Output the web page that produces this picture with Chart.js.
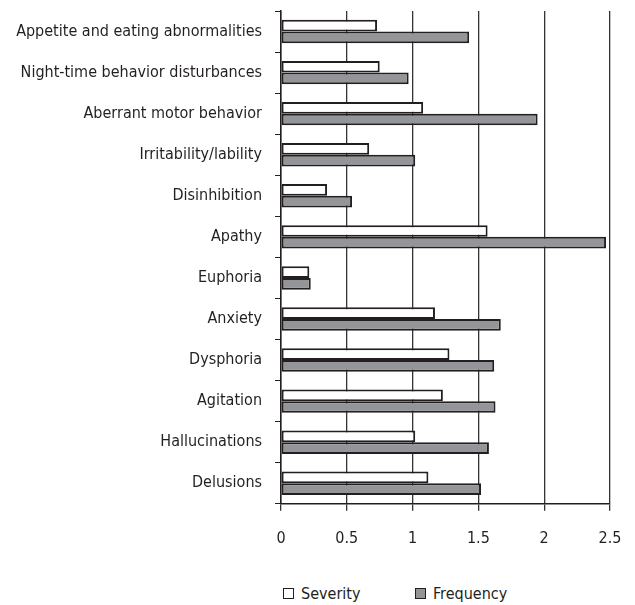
<!DOCTYPE html>
<html>
<head>
<meta charset="utf-8">
<script src="https://cdn.jsdelivr.net/npm/chart.js@4/dist/chart.umd.min.js"></script>
<style>
  html, body { margin: 0; padding: 0; background: #fff; }
  #wrap { position: relative; width: 635px; height: 605px; }
  #legend { position: absolute; left: 283px; top: 584px; margin: 0; padding: 0; list-style: none;
            font-family: 'DejaVu Sans Condensed', sans-serif; font-size: 16px; color: #231f20; }
  #legend li { position: absolute; top: 0; white-space: nowrap; display: flex; align-items: center; }
  #legend .box { display: inline-block; width: 9px; height: 9px; border: 1px solid #231f20; margin-right: 7px; }
</style>
</head>
<body>
<div id="wrap">
  <canvas id="myChart" width="635" height="566"></canvas>
  <ul id="legend"></ul>
</div>
<script>
const categories = [
    'Appetite and eating abnormalities',
    'Night-time behavior disturbances',
    'Aberrant motor behavior',
    'Irritability/lability',
    'Disinhibition',
    'Apathy',
    'Euphoria',
    'Anxiety',
    'Dysphoria',
    'Agitation',
    'Hallucinations',
    'Delusions'
];
const severity = [0.73, 0.75, 1.08, 0.67, 0.35, 1.57, 0.215, 1.17, 1.28, 1.23, 1.02, 1.12];
const frequency = [1.43, 0.97, 1.95, 1.02, 0.54, 2.47, 0.226, 1.67, 1.62, 1.63, 1.58, 1.52];
const xTicks = [0, 0.5, 1, 1.5, 2, 2.5];

const fontFamily = "'DejaVu Sans Condensed', sans-serif";
const ink = '#231f20';

Chart.defaults.font.family = fontFamily;
Chart.defaults.font.size = 16;
Chart.defaults.color = ink;

const ctx = document.getElementById('myChart');

const chart = new Chart(ctx, {
    type: 'bar',
    data: {
        labels: categories,
        datasets: [{
            label: 'Severity',
            data: severity,
            backgroundColor: '#ffffff',
            borderColor: ink,
            borderWidth: 2,
            borderSkipped: false
        }, {
            label: 'Frequency',
            data: frequency,
            backgroundColor: '#939598',
            borderColor: ink,
            borderWidth: 2,
            borderSkipped: false
        }]
    },
    options: {
        indexAxis: 'y',
        responsive: false,
        animation: false,
        categoryPercentage: 0.57,
        barPercentage: 1,
        layout: {
            padding: { top: 11, right: 25, bottom: 0, left: 0 }
        },
        scales: {
            x: {
                min: 0,
                max: 2.5,
                afterBuildTicks: (scale) => {
                    scale.ticks = xTicks.map(v => ({ value: v }));
                },
                afterFit: (scale) => {
                    scale.paddingLeft = 0;
                    scale.paddingRight = 0;
                },
                ticks: {
                    padding: 18,
                    callback: (v) => String(v)
                },
                grid: {
                    color: '#333333',
                    lineWidth: 1.3,
                    tickLength: 7
                },
                border: { color: ink, width: 1.5 }
            },
            y: {
                afterFit: (scale) => {
                    scale.width = 281;
                    scale.paddingTop = 0;
                    scale.paddingBottom = 0;
                },
                ticks: {
                    padding: 13
                },
                grid: {
                    drawOnChartArea: false,
                    color: ink,
                    tickLength: 6,
                    offset: true
                },
                border: { color: ink, width: 1.5 }
            }
        },
        plugins: {
            legend: { display: false },
            tooltip: { enabled: false }
        }
    }
});

// legend under the chart, built from the datasets
const legendOffsets = [0, 132];
const legendList = document.getElementById('legend');
chart.data.datasets.forEach((ds, i) => {
    const li = document.createElement('li');
    li.style.left = legendOffsets[i] + 'px';
    li.innerHTML = `<span class="box" style="background:${ds.backgroundColor}"></span>${ds.label}`;
    legendList.appendChild(li);
});
</script>
</body>
</html>
